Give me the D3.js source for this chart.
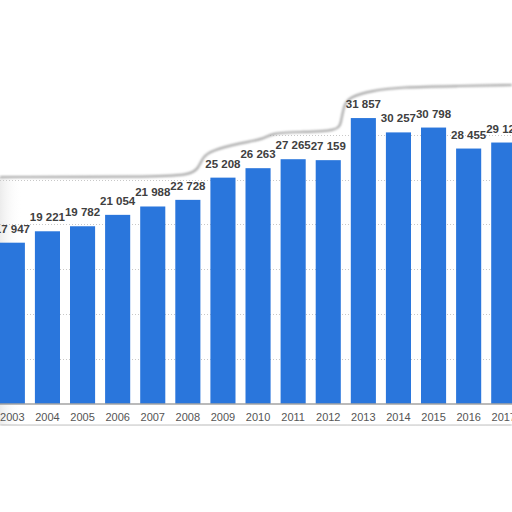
<!DOCTYPE html>
<html>
<head>
<meta charset="utf-8">
<script src="https://cdn.jsdelivr.net/npm/d3@7"></script>
<style>
  html, body { margin: 0; padding: 0; background: #fff; }
  svg { display: block; }
</style>
</head>
<body>
<div id="chart"></div>
<script>
// data
const years = ["2003", "2004", "2005", "2006", "2007", "2008", "2009", "2010",
               "2011", "2012", "2013", "2014", "2015", "2016", "2017"];
const values = [17947, 19221, 19782, 21054, 21988, 22728, 25208, 26263,
                27265, 27159, 31857, 30257, 30798, 28455, 29126];
const gridTicks = [5000, 10000, 15000, 20000, 25000, 30000];

const W = 512, H = 512;
const baseY = 403.5;

const data = years.map((y, i) => ({ year: y, value: values[i] }));
const fmt = v => d3.format(",")(v).replace(/,/g, " ");

const svg = d3.select("#chart").append("svg")
  .attr("width", W)
  .attr("height", H);

const defs = svg.append("defs");
defs.append("filter").attr("id", "soft")
  .attr("x", "-10%").attr("y", "-50%").attr("width", "120%").attr("height", "200%")
  .append("feGaussianBlur").attr("stdDeviation", 1.2);

const leftShade = defs.append("linearGradient").attr("id", "leftShade");
leftShade.append("stop").attr("offset", "0%").attr("stop-color", "#ececec");
leftShade.append("stop").attr("offset", "100%").attr("stop-color", "#ffffff").attr("stop-opacity", 0);

const x = d3.scaleBand()
  .domain(years)
  .range([-5.2, -5.2 + 15 * 35.1])
  .paddingInner(0.285)
  .paddingOuter(0.1425);

const y = d3.scaleLinear()
  .domain([0, 35000])
  .range([baseY, baseY - 35000 * 0.00896]);

// faint shading on the left edge of the paper
svg.append("rect")
  .attr("x", 0).attr("y", 170)
  .attr("width", 22).attr("height", 255)
  .attr("fill", "url(#leftShade)");

// dotted grid
svg.append("g")
  .selectAll("line")
  .data(gridTicks)
  .join("line")
  .attr("x1", 0).attr("x2", W)
  .attr("y1", d => Math.round(y(d)) + 0.5)
  .attr("y2", d => Math.round(y(d)) + 0.5)
  .attr("stroke", "#c8c8c8")
  .attr("stroke-dasharray", "1,2");

// bars
svg.append("g")
  .selectAll("rect")
  .data(data)
  .join("rect")
  .attr("x", d => x(d.year))
  .attr("y", d => y(d.value))
  .attr("width", x.bandwidth())
  .attr("height", d => baseY - y(d.value))
  .attr("fill", "#2a76dc");

// x axis
const xAxis = svg.append("g")
  .attr("transform", `translate(0,${baseY})`)
  .call(d3.axisBottom(x).tickSize(0).tickPadding(10));
xAxis.select(".domain").remove();
xAxis.selectAll("text")
  .attr("font-family", "'Liberation Sans', Arial, sans-serif")
  .attr("font-size", 11)
  .attr("fill", "#555");
svg.append("line")
  .attr("x1", 0).attr("x2", W)
  .attr("y1", baseY + 0.5).attr("y2", baseY + 0.5)
  .attr("stroke", "#777").attr("stroke-width", 1.2);

// torn paper edges (decoration)
const topEdge = [[0, 177], [150, 177], [190, 175], [198, 169], [203, 157], [210, 151],
                 [240, 143], [265, 139], [271, 133], [300, 132], [338, 131], [341, 123],
                 [344, 104], [350, 97], [370, 91], [400, 87], [460, 86], [512, 85]];
const line = d3.line().curve(d3.curveBasis);

svg.append("path")
  .attr("d", line(topEdge) + `L${W},0L0,0Z`)
  .attr("fill", "#fff");
svg.append("path")
  .attr("d", line(topEdge))
  .attr("fill", "none")
  .attr("stroke", "#a8a8a8")
  .attr("stroke-width", 2.2)
  .attr("filter", "url(#soft)");

const bottomEdge = [[0, 425], [120, 426], [250, 424], [380, 426], [512, 425]];
svg.append("path")
  .attr("d", line(bottomEdge) + `L${W},${H}L0,${H}Z`)
  .attr("fill", "#fff");
svg.append("path")
  .attr("d", line(bottomEdge))
  .attr("fill", "none")
  .attr("stroke", "#c4c4c4")
  .attr("stroke-width", 2)
  .attr("filter", "url(#soft)");

// value labels
svg.append("g")
  .selectAll("text")
  .data(data)
  .join("text")
  .attr("x", d => x(d.year) + x.bandwidth() / 2)
  .attr("y", d => y(d.value) - 10)
  .attr("text-anchor", "middle")
  .attr("font-family", "'Liberation Sans', Arial, sans-serif")
  .attr("font-weight", "bold")
  .attr("font-size", 11.5)
  .attr("fill", "#404040")
  .text(d => fmt(d.value));
</script>
</body>
</html>
